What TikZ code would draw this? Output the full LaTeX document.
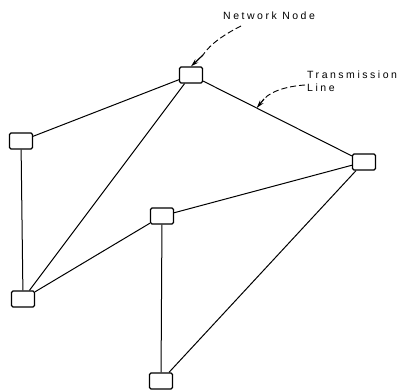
\documentclass[tikz,border=0pt]{standalone}
\usepackage{fontspec}
\newfontfamily\lblfont[LetterSpace=24]{Liberation Sans}
\usetikzlibrary{arrows.meta}
\begin{document}
\begin{tikzpicture}[x=1pt,y=-1pt,
  netbox/.style={draw,line width=1.2pt,rounded corners=1.5pt,minimum width=23pt,minimum height=16pt,inner sep=0pt},
  tline/.style={line width=1pt},
  lbl/.style={font=\lblfont\fontsize{10.5}{12.5}\selectfont,inner sep=0pt,align=left},
  callout/.style={line width=0.9pt,dash pattern=on 6pt off 3pt},
  tip/.style={line width=1.2pt,-{Stealth[length=8pt,width=4.5pt]}}]
\useasboundingbox (0,0) rectangle (398,390);
\node[netbox] (A) at (191,75) {};
\node[netbox] (B) at (21,141) {};
\node[netbox] (C) at (23,299) {};
\node[netbox] (D) at (162,216) {};
\node[netbox] (E) at (364,162) {};
\node[netbox] (F) at (161,381) {};
\draw[tline] (A) -- (B);
\draw[tline] (A) -- (C);
\draw[tline] (A) -- (E) coordinate[pos=0.36] (tl);
\draw[tline] (B) -- (C);
\draw[tline] (C) -- (D);
\draw[tline] (D) -- (E);
\draw[tline] (D) -- (F);
\draw[tline] (F) -- (E);
\node[lbl,anchor=west] (nn) at (223,16) {Network Node};
\node[lbl,anchor=north west] (tm) at (307,71) {Transmission\\Line};
\coordinate (c1) at (241,26);
\coordinate (c2) at (203,55);
\draw[callout] (c1) .. controls (225,34) and (210,44) .. (c2);
\draw[tip] (c2) -- (A.north);
\coordinate (c3) at (305,85);
\coordinate (c4) at (264,99);
\draw[callout] (c3) .. controls (290,86) and (272,90) .. (c4);
\draw[tip] (c4) -- (tl);
\end{tikzpicture}
\end{document}
